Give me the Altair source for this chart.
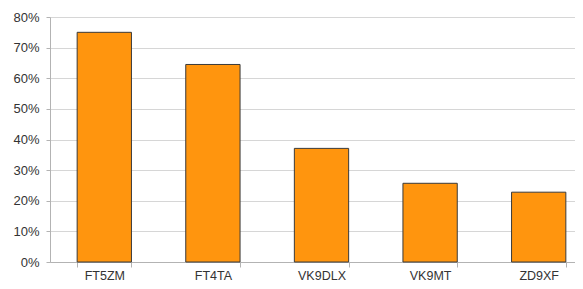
import altair as alt
import pandas as pd

calls = ["FT5ZM", "FT4TA", "VK9DLX", "VK9MT", "ZD9XF"]
shares = [0.75, 0.645, 0.371, 0.257, 0.228]

df = pd.DataFrame({"call": calls, "share": shares})

chart = alt.Chart(df).mark_bar(
    color="#ff950e", stroke="#3a3a3a", strokeWidth=1
).encode(
    x=alt.X("call:N", sort=calls, title=None,
            scale=alt.Scale(paddingInner=0.5, paddingOuter=0.25, range=[0, 543]),
            axis=alt.Axis(labelAngle=0, tickBand="extent", tickSize=5,
                          labelPadding=2, labelFontSize=12.5, labelFont="Liberation Sans",
                          labelColor="#333333", domainColor="#b3b3b3", tickColor="#b3b3b3",
                          grid=False)),
    y=alt.Y("share:Q", title=None,
            scale=alt.Scale(domain=[0, 0.8], nice=False),
            axis=alt.Axis(format=".0%", values=[0, 0.1, 0.2, 0.3, 0.4, 0.5, 0.6, 0.7, 0.8],
                          tickSize=4, labelPadding=7, labelFontSize=13,
                          labelFont="Liberation Sans", labelColor="#333333",
                          domainColor="#b3b3b3", tickColor="#b3b3b3",
                          gridColor="#d6d6d6", gridWidth=1.2)),
).properties(
    width=525, height=245,
    autosize=alt.AutoSizeParams(type="none"),
    padding={"left": 42, "top": 9, "right": 0, "bottom": 19},
).configure_view(stroke=None)

chart.save("out.html", embed_options={"renderer": "svg", "actions": False})
